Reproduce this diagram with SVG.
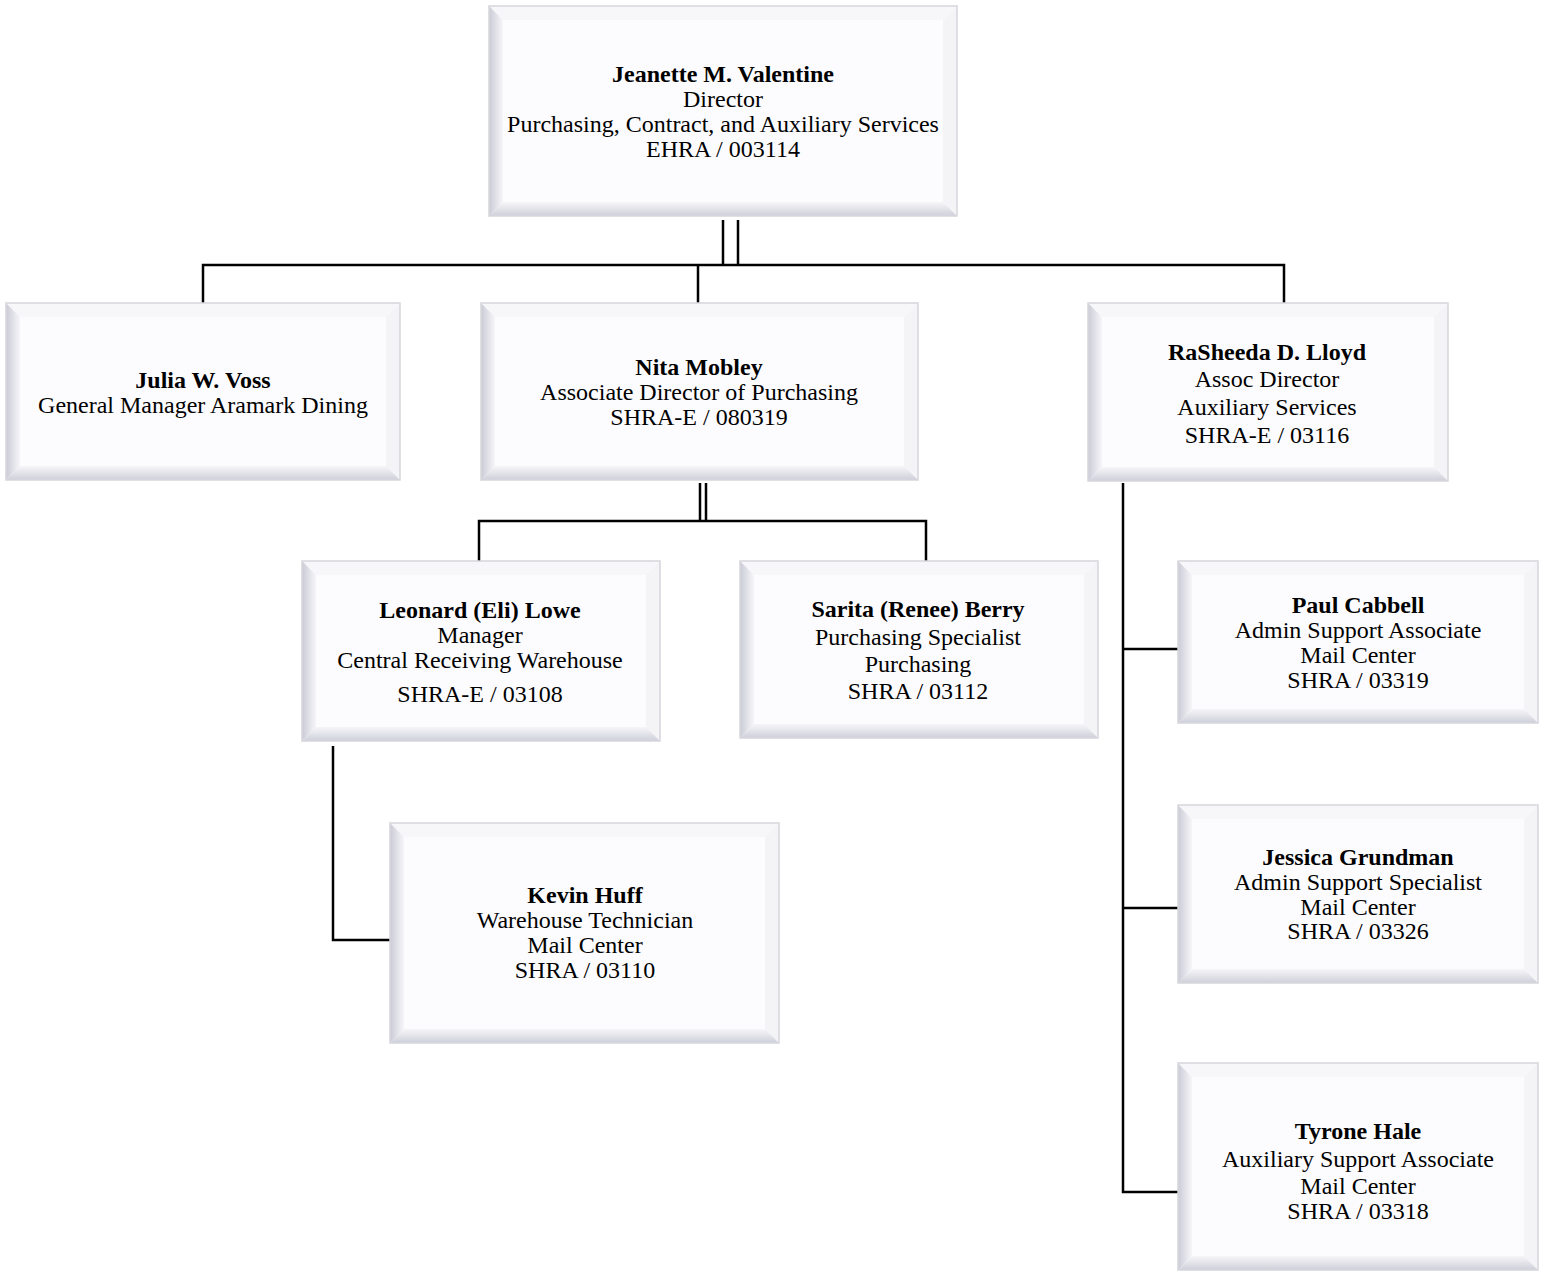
<svg xmlns="http://www.w3.org/2000/svg" width="1544" height="1272" viewBox="0 0 1544 1272">
<style>
.frame{fill:none;stroke:#d6d6dc;stroke-width:1.5}
.face{fill:#fcfcfe}
.bt{fill:#f7f7fa}
.br{fill:#f4f4f7}
.bl{fill:url(#gL)}
.bb{fill:url(#gB)}
.ln{fill:none;stroke:#000;stroke-width:2.5}
text{font-family:"Liberation Serif","Times New Roman",serif;font-size:24px;fill:#000;text-anchor:middle}
.n{font-weight:bold}
</style>
<defs>
<linearGradient id="gL" x1="0" y1="0" x2="1" y2="0">
<stop offset="0" stop-color="#cbcbd7"/><stop offset="1" stop-color="#f6f6f9"/>
</linearGradient>
<linearGradient id="gB" x1="0" y1="0" x2="0" y2="1">
<stop offset="0" stop-color="#f6f6f9"/><stop offset="1" stop-color="#cfcfda"/>
</linearGradient>
</defs>
<rect width="1544" height="1272" fill="#fff"/>
<g id="connectors">
<path class="ln" d="M723 220V265M738 220V265"/>
<path class="ln" d="M203 303V265H1284V303M698 265V303"/>
<path class="ln" d="M700 483V521M706 483V521"/>
<path class="ln" d="M479 561V521H926V561"/>
<path class="ln" d="M1123 483V1192H1178M1123 649H1178M1123 908H1178"/>
<path class="ln" d="M333 746V940H390"/>
</g>
<g id="jeanette">
<rect class="face" x="489" y="6" width="468" height="210"/>
<polygon class="bt" points="489,6 957,6 943,20 503,20"/>
<polygon class="br" points="957,6 957,216 943,202 943,20"/>
<polygon class="bb" points="489,216 957,216 943,202 503,202"/>
<polygon class="bl" points="489,6 503,20 503,202 489,216"/>
<rect class="frame" x="489" y="6" width="468" height="210"/>
<text class="n" x="723" y="82">Jeanette M. Valentine</text>
<text x="723" y="107">Director</text>
<text x="723" y="132">Purchasing, Contract, and Auxiliary Services</text>
<text x="723" y="157">EHRA / 003114</text>
</g>
<g id="julia">
<rect class="face" x="6" y="303" width="394" height="177"/>
<polygon class="bt" points="6,303 400,303 386,317 20,317"/>
<polygon class="br" points="400,303 400,480 386,466 386,317"/>
<polygon class="bb" points="6,480 400,480 386,466 20,466"/>
<polygon class="bl" points="6,303 20,317 20,466 6,480"/>
<rect class="frame" x="6" y="303" width="394" height="177"/>
<text class="n" x="203" y="388">Julia W. Voss</text>
<text x="203" y="413">General Manager Aramark Dining</text>
</g>
<g id="nita">
<rect class="face" x="481" y="303" width="437" height="177"/>
<polygon class="bt" points="481,303 918,303 904,317 495,317"/>
<polygon class="br" points="918,303 918,480 904,466 904,317"/>
<polygon class="bb" points="481,480 918,480 904,466 495,466"/>
<polygon class="bl" points="481,303 495,317 495,466 481,480"/>
<rect class="frame" x="481" y="303" width="437" height="177"/>
<text class="n" x="699" y="375">Nita Mobley</text>
<text x="699" y="400">Associate Director of Purchasing</text>
<text x="699" y="425">SHRA-E / 080319</text>
</g>
<g id="rasheeda">
<rect class="face" x="1088" y="303" width="360" height="178"/>
<polygon class="bt" points="1088,303 1448,303 1434,317 1102,317"/>
<polygon class="br" points="1448,303 1448,481 1434,467 1434,317"/>
<polygon class="bb" points="1088,481 1448,481 1434,467 1102,467"/>
<polygon class="bl" points="1088,303 1102,317 1102,467 1088,481"/>
<rect class="frame" x="1088" y="303" width="360" height="178"/>
<text class="n" x="1267" y="360">RaSheeda D. Lloyd</text>
<text x="1267" y="387">Assoc Director</text>
<text x="1267" y="415">Auxiliary Services</text>
<text x="1267" y="443">SHRA-E / 03116</text>
</g>
<g id="leonard">
<rect class="face" x="302" y="561" width="358" height="180"/>
<polygon class="bt" points="302,561 660,561 646,575 316,575"/>
<polygon class="br" points="660,561 660,741 646,727 646,575"/>
<polygon class="bb" points="302,741 660,741 646,727 316,727"/>
<polygon class="bl" points="302,561 316,575 316,727 302,741"/>
<rect class="frame" x="302" y="561" width="358" height="180"/>
<text class="n" x="480" y="618">Leonard (Eli) Lowe</text>
<text x="480" y="643">Manager</text>
<text x="480" y="668">Central Receiving Warehouse</text>
<text x="480" y="702">SHRA-E / 03108</text>
</g>
<g id="sarita">
<rect class="face" x="740" y="561" width="358" height="177"/>
<polygon class="bt" points="740,561 1098,561 1084,575 754,575"/>
<polygon class="br" points="1098,561 1098,738 1084,724 1084,575"/>
<polygon class="bb" points="740,738 1098,738 1084,724 754,724"/>
<polygon class="bl" points="740,561 754,575 754,724 740,738"/>
<rect class="frame" x="740" y="561" width="358" height="177"/>
<text class="n" x="918" y="617">Sarita (Renee) Berry</text>
<text x="918" y="645">Purchasing Specialist</text>
<text x="918" y="672">Purchasing</text>
<text x="918" y="699">SHRA / 03112</text>
</g>
<g id="kevin">
<rect class="face" x="390" y="823" width="389" height="220"/>
<polygon class="bt" points="390,823 779,823 765,837 404,837"/>
<polygon class="br" points="779,823 779,1043 765,1029 765,837"/>
<polygon class="bb" points="390,1043 779,1043 765,1029 404,1029"/>
<polygon class="bl" points="390,823 404,837 404,1029 390,1043"/>
<rect class="frame" x="390" y="823" width="389" height="220"/>
<text class="n" x="585" y="903">Kevin Huff</text>
<text x="585" y="928">Warehouse Technician</text>
<text x="585" y="953">Mail Center</text>
<text x="585" y="978">SHRA / 03110</text>
</g>
<g id="paul">
<rect class="face" x="1178" y="561" width="360" height="162"/>
<polygon class="bt" points="1178,561 1538,561 1524,575 1192,575"/>
<polygon class="br" points="1538,561 1538,723 1524,709 1524,575"/>
<polygon class="bb" points="1178,723 1538,723 1524,709 1192,709"/>
<polygon class="bl" points="1178,561 1192,575 1192,709 1178,723"/>
<rect class="frame" x="1178" y="561" width="360" height="162"/>
<text class="n" x="1358" y="613">Paul Cabbell</text>
<text x="1358" y="638">Admin Support Associate</text>
<text x="1358" y="663">Mail Center</text>
<text x="1358" y="688">SHRA / 03319</text>
</g>
<g id="jessica">
<rect class="face" x="1178" y="805" width="360" height="178"/>
<polygon class="bt" points="1178,805 1538,805 1524,819 1192,819"/>
<polygon class="br" points="1538,805 1538,983 1524,969 1524,819"/>
<polygon class="bb" points="1178,983 1538,983 1524,969 1192,969"/>
<polygon class="bl" points="1178,805 1192,819 1192,969 1178,983"/>
<rect class="frame" x="1178" y="805" width="360" height="178"/>
<text class="n" x="1358" y="865">Jessica Grundman</text>
<text x="1358" y="890">Admin Support Specialist</text>
<text x="1358" y="915">Mail Center</text>
<text x="1358" y="939">SHRA / 03326</text>
</g>
<g id="tyrone">
<rect class="face" x="1178" y="1063" width="360" height="207"/>
<polygon class="bt" points="1178,1063 1538,1063 1524,1077 1192,1077"/>
<polygon class="br" points="1538,1063 1538,1270 1524,1256 1524,1077"/>
<polygon class="bb" points="1178,1270 1538,1270 1524,1256 1192,1256"/>
<polygon class="bl" points="1178,1063 1192,1077 1192,1256 1178,1270"/>
<rect class="frame" x="1178" y="1063" width="360" height="207"/>
<text class="n" x="1358" y="1139">Tyrone Hale</text>
<text x="1358" y="1167">Auxiliary Support Associate</text>
<text x="1358" y="1194">Mail Center</text>
<text x="1358" y="1219">SHRA / 03318</text>
</g>
</svg>
